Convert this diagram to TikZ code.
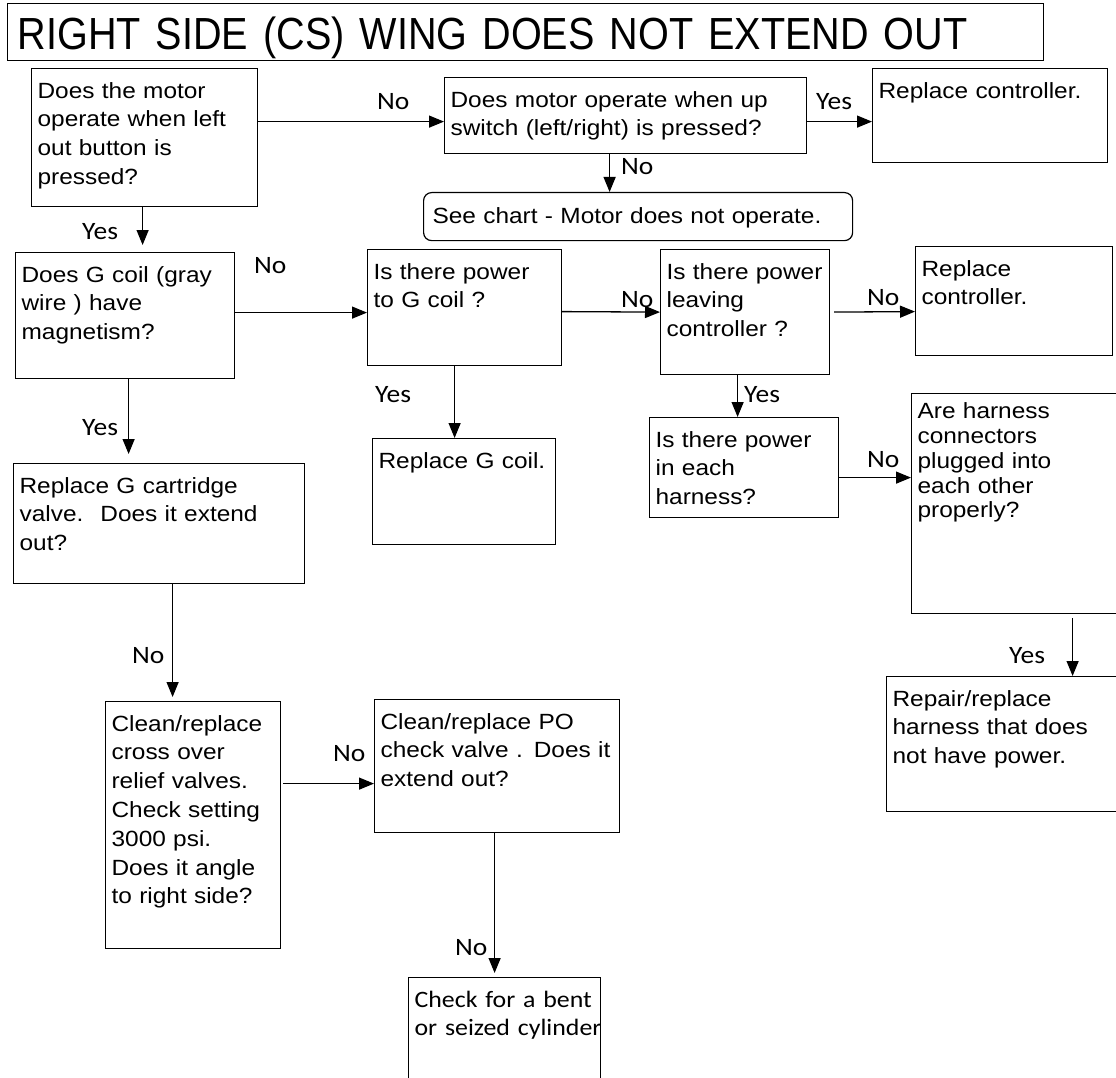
\documentclass[tikz,border=0pt]{standalone}
\usepackage{fontspec}
\usepackage{tikz}
\usetikzlibrary{arrows.meta}

\newfontfamily\arialfont[FakeStretch=1.11]{Liberation Sans}
\newfontfamily\headfont[FakeStretch=0.88]{Liberation Sans}
\newfontfamily\calfont[FakeStretch=1.1]{Carlito}

\newcommand{\qfont}{\arialfont\fontsize{22pt}{28.8pt}\selectfont\spaceskip=9pt plus 2pt minus 1pt\relax}
\newcommand{\harnfont}{\arialfont\fontsize{22pt}{24.8pt}\selectfont\spaceskip=9pt plus 2pt minus 1pt\relax}
\newcommand{\titfont}{\headfont\fontsize{45pt}{52pt}\selectfont\spaceskip=18pt plus 2pt\relax}
\newcommand{\qlines}[1]{\begin{tabular}[t]{@{}l@{}}#1\end{tabular}}

\tikzset{
  qbox/.style={draw, line width=1.2pt, anchor=north west, inner xsep=6pt, inner ysep=0pt,
    align=left, text height=29.5pt, font=\qfont},
  arr/.style={-{Triangle[length=15pt,width=12pt]}, line width=1.3pt},
  yn/.style={anchor=base west, inner sep=0pt, font=\calfont\fontsize{25pt}{30pt}\selectfont},
}

\begin{document}
\begin{tikzpicture}[x=1pt, y=-1pt]

    % Page size (pixels of the chart)
    \def\pgW{1116}
    \def\pgH{1078}
    \useasboundingbox (0,0) rectangle (\pgW,\pgH);
    \fill[white] (0,0) rectangle (\pgW,\pgH);

    % =========================================================================
    % Title
    % =========================================================================
    \node[draw, line width=1.4pt, anchor=north west, inner xsep=10pt, inner ysep=0pt,
          text width=1016pt, text height=46pt, text depth=11pt, align=left, font=\titfont]
        (title) at (7,3) {RIGHT SIDE (CS) WING DOES NOT EXTEND OUT};

    % =========================================================================
    % Top row: motor checks
    % =========================================================================
    \node[qbox, text width=214pt, text depth=108.5pt] (q1) at (31,68)
        {\qlines{Does the motor\\operate when left\\out button is\\pressed?}};
    \node[qbox, text width=350pt, text depth=46.5pt] (q2) at (444,77)
        {\qlines{Does motor operate when up\\switch (left/right) is pressed?}};
    \node[qbox, text width=223pt, text depth=64.5pt] (q3) at (872,68)
        {\qlines{Replace controller.}};
    \node[qbox, rounded corners=8pt, inner xsep=9pt, text width=411pt,
          text height=31pt, text depth=17pt] (chart) at (423,192)
        {\qlines{See chart - Motor does not operate.}};

    \draw[arr] ([yshift=16pt]q1.east) -- ([yshift=-6pt]q2.west);
    \draw[arr] ([yshift=-6pt]q2.east) -- ([yshift=-6pt]q3.west);
    \draw[arr] ([xshift=-16pt]q2.south) -- ([xshift=-28.5pt]chart.north);

    \node[yn] (lab1) at (377,110) {No};
    \node[yn] (lab2) at (816,110) {Yes};
    \node[yn] (lab3) at (621,175) {No};

    % =========================================================================
    % Second row: G coil and controller power
    % =========================================================================
    \node[qbox, text width=207pt, text depth=96.5pt] (q5) at (15,252)
        {\qlines{Does G coil (gray\\wire ) have\\magnetism?}};
    \node[qbox, text width=182pt, text depth=86.5pt] (q6) at (367,249)
        {\qlines{Is there power\\to G coil ?}};
    \node[qbox, text width=157pt, text depth=95.5pt] (q7) at (660,249)
        {\qlines{Is there power\\leaving\\controller ?}};
    \node[qbox, text width=185pt, text depth=79.5pt] (q8) at (915,246)
        {\qlines{Replace\\controller.}};

    \draw[arr, shorten >=7pt] ([xshift=-2pt]q1.south) -- ([xshift=17.5pt]q5.north);
    \draw[arr] ([yshift=3pt]q5.east) -- ([yshift=-5pt]q6.west);
    \draw[arr] ([yshift=-4pt]q6.east) -- (q7.west);
    \draw[arr, shorten <=4pt] (q7.east) -- ([yshift=-10.5pt]q8.west);

    \node[yn] (lab4) at (82,240) {Yes};
    \node[yn] (lab5) at (254,273) {No};
    \node[yn] (lab6) at (621,307) {No};
    \node[yn] (lab7) at (867,305) {No};

    % =========================================================================
    % Third row
    % =========================================================================
    \node[qbox, text width=171pt, text depth=76.5pt] (q9) at (372,438)
        {\qlines{Replace G coil.}};
    \node[qbox, text width=177pt, text depth=70.5pt] (q10) at (649,417)
        {\qlines{Is there power\\in each\\harness?}};
    \node[qbox, text width=202pt, text height=25pt, text depth=195pt, font=\harnfont]
        (q11) at (911,393)
        {\qlines{Are harness\\connectors\\plugged into\\each other\\properly?}};
    \node[qbox, text width=279pt, text depth=90.5pt] (q12) at (13,463)
        {\qlines{Replace G cartridge\\valve.\hspace{6pt} Does it extend\\out?}};

    \draw[arr] ([xshift=-10pt]q6.south) -- ([xshift=-9.5pt]q9.north);
    \draw[arr] ([xshift=-7.5pt]q7.south) -- ([xshift=-6.5pt]q10.north);
    \draw[arr, shorten >=9pt] ([xshift=3.5pt]q5.south) -- ([xshift=-30.5pt]q12.north);
    \draw[arr] ([yshift=-10pt]q10.east) -- ([yshift=26pt]q11.west);

    \node[yn] (lab8) at (744,402) {Yes};
    \node[yn] (lab9) at (375,402) {Yes};
    \node[yn] (lab10) at (82,435) {Yes};
    \node[yn] (lab11) at (867,467) {No};

    % =========================================================================
    % Bottom rows: valves, harness repair, cylinder
    % =========================================================================
    \node[qbox, text width=228pt, text depth=105.5pt] (q13) at (886,676)
        {\qlines{Repair/replace\\harness that does\\not have power.}};
    \node[qbox, text width=163pt, text depth=217.5pt] (q14) at (105,701)
        {\qlines{Clean/replace\\cross over\\relief valves.\\Check setting\\3000 psi.\\Does it angle\\to right side?}};
    \node[qbox, text width=233pt, text depth=103.5pt] (q15) at (374,699)
        {\qlines{Clean/replace PO\\check valve . Does it\\extend out?}};
    \node[qbox, text width=180pt, text height=30pt, text depth=90pt,
          font={\calfont\fontsize{23.5pt}{28pt}\selectfont}] (q16) at (408,977)
        {\qlines{Check for a bent\\or seized cylinder}};

    \draw[arr, shorten <=4pt] ([xshift=54pt]q11.south) -- ([xshift=66pt]q13.north);
    \draw[arr, shorten >=4pt] ([xshift=13.5pt]q12.south) -- ([xshift=-20.5pt]q14.north);
    \draw[arr, shorten <=2pt] ([yshift=41.5pt]q14.east) -- ([yshift=-17.5pt]q15.west);
    \draw[arr, shorten >=4pt] ([xshift=-2.5pt]q15.south) -- ([xshift=-10pt]q16.north);

    \node[yn] (lab12) at (1009,663) {Yes};
    \node[yn] (lab13) at (132,663) {No};
    \node[yn] (lab14) at (333,761) {No};
    \node[yn] (lab15) at (455,955) {No};

\end{tikzpicture}
\end{document}
